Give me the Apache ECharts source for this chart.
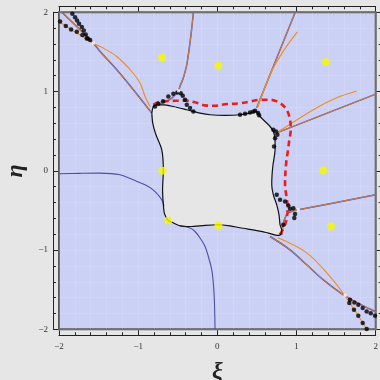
<!DOCTYPE html>
<html><head><meta charset="utf-8">
<script src="https://cdn.jsdelivr.net/npm/echarts@6/dist/echarts.min.js"></script>
<style>html,body{margin:0;padding:0;background:#e6e6e6}#c{width:380px;height:380px}</style>
</head><body><div id="c"></div>
<script>
// ---- data (xi, eta) ----
const tickValues = [-2, -1, 0, 1, 2];
const boundary = [[-0.828,0.728],[-0.808,0.811],[-0.765,0.833],[-0.682,0.833],[-0.556,0.811],[-0.386,0.770],[-0.218,0.728],[-0.092,0.707],[0.097,0.700],[0.287,0.707],[0.413,0.728],[0.489,0.751],[0.539,0.685],[0.603,0.622],[0.666,0.559],[0.707,0.496],[0.729,0.391],[0.729,0.265],[0.703,0.076],[0.691,-0.050],[0.687,-0.177],[0.707,-0.303],[0.750,-0.429],[0.779,-0.555],[0.792,-0.681],[0.813,-0.744],[0.804,-0.799],[0.770,-0.816],[0.644,-0.786],[0.518,-0.757],[0.287,-0.719],[0.160,-0.694],[0.0,-0.681],[-0.155,-0.688],[-0.345,-0.703],[-0.471,-0.694],[-0.572,-0.650],[-0.619,-0.627],[-0.667,-0.543],[-0.682,-0.429],[-0.692,-0.240],[-0.682,0.0],[-0.702,0.265],[-0.780,0.467],[-0.816,0.602],[-0.828,0.728]];
const redCurve = [[-0.808,0.833],[-0.749,0.864],[-0.660,0.877],[-0.534,0.883],[-0.408,0.886],[-0.282,0.864],[-0.155,0.826],[-0.029,0.820],[0.097,0.839],[0.287,0.852],[0.413,0.874],[0.539,0.896],[0.666,0.896],[0.792,0.854],[0.876,0.770],[0.918,0.644],[0.927,0.517],[0.909,0.391],[0.893,0.265],[0.867,0.076],[0.855,-0.177],[0.876,-0.344],[0.889,-0.471],[0.876,-0.597],[0.855,-0.681],[0.813,-0.766],[0.779,-0.820]];
const blueLeft = [[-2.0,-0.038],[-1.735,-0.032],[-1.482,-0.029],[-1.228,-0.050],[-1.064,-0.114],[-0.913,-0.177],[-0.812,-0.240],[-0.749,-0.303],[-0.702,-0.366],[-0.673,-0.442]];
const blueBottom = [[-0.471,-0.694],[-0.345,-0.723],[-0.282,-0.766],[-0.218,-0.849],[-0.155,-0.955],[-0.114,-1.081],[-0.071,-1.249],[-0.051,-1.417],[-0.038,-1.628],[-0.029,-2.0]];
const rayTopLeft = [[-0.828,0.728],[-1.061,1.022],[-1.270,1.274],[-1.481,1.505],[-1.566,1.611],[-1.957,1.994]];
const rayUp = [[-0.812,0.808],[-0.765,0.837],[-0.682,0.858],[-0.597,0.900],[-0.534,0.959],[-0.492,1.006],[-0.471,1.069],[-0.429,1.174],[-0.386,1.341],[-0.354,1.552],[-0.323,1.804],[-0.303,1.994]];
const rayUpRight = [[0.497,0.795],[0.981,1.994]];
const rayRight = [[0.750,0.479],[2.0,0.967]];
const rayLowRight = [[0.813,-0.808],[0.846,-0.618],[0.896,-0.530],[0.960,-0.505],[1.023,-0.492],[2.0,-0.303]];
const rayBottomRight = [[0.665,-0.829],[0.918,-0.997],[1.129,-1.186],[1.338,-1.375],[1.612,-1.577],[2.0,-1.779]];
const orangeTopLeft = [[-0.850,0.811],[-0.913,0.938],[-0.976,1.107],[-1.081,1.253],[-1.270,1.442],[-1.439,1.548],[-1.566,1.611],[-2.0,1.881]];
const orangeUpRight = [[0.508,0.795],[0.666,1.215],[0.833,1.510],[1.010,1.754]];
const orangeRight = [[0.770,0.492],[1.255,0.795],[1.508,0.921],[1.760,1.006]];
const orangeBottomRight = [[0.766,-0.845],[1.129,-1.035],[1.423,-1.334],[1.612,-1.577],[1.886,-1.997]];
const blackDots = [[-1.831,1.981],[-1.797,1.939],[-1.772,1.897],[-1.747,1.855],[-1.712,1.813],[-1.687,1.770],[-1.662,1.720],[-1.636,1.669],
  [-1.986,1.884],[-1.914,1.826],[-1.847,1.783],[-1.775,1.754],[-1.705,1.712],[-1.649,1.669],[-1.607,1.649],
  [-0.787,0.811],[-0.745,0.845],[-0.686,0.877],[-0.619,0.938],[-0.556,0.972],[-0.505,0.988],[-0.462,0.980],[-0.437,0.946],[-0.408,0.896],[-0.386,0.833],[-0.345,0.791],[-0.303,0.748],
  [0.287,0.707],[0.350,0.719],[0.413,0.736],[0.451,0.744],[0.476,0.757],[0.514,0.728],[0.527,0.700],
  [0.707,0.517],[0.741,0.496],[0.758,0.454],[0.729,0.412],[0.716,0.307],
  [0.750,-0.303],[0.792,-0.366],[0.855,-0.387],[0.896,-0.438],[0.918,-0.479],[0.960,-0.471],[0.981,-0.546],[0.972,-0.597],[0.833,-0.681],
  [1.675,-1.628],[1.730,-1.662],[1.780,-1.691],[1.836,-1.732],[1.886,-1.776],[1.938,-1.796],[1.992,-1.830],
  [1.667,-1.669],[1.726,-1.754],[1.780,-1.830],[1.836,-1.922],[1.886,-1.997]];
const yellowDots = [[-0.698,1.426],[0.013,1.325],[1.372,1.372],[-0.694,0.0],[1.338,0.004],[-0.619,-0.627],[0.013,-0.694],[1.436,-0.703]];
const whitePoints = [[-1.566,1.612],[1.612,-1.571],[1.023,-0.492],[-0.490,1.009]];

const NAVY = '#4a4fa8', ORANGE = '#f7891e';
const minus = v => v < 0 ? '\u2212' + (-v) : String(v);
const serif = 'Liberation Serif';
const MESH = 'rgba(255,255,255,0.13)';
function line(data, color, width, z, extra) {
  return Object.assign({type:'line', data, smooth:0.35, symbol:'none', z,
    lineStyle:{color, width}, silent:true, animation:false}, extra||{});
}
const baseAxis = {
  type:'value', min:-2, max:2, interval:1,
  axisLine:{show:true, onZero:false, lineStyle:{color:'#222', width:1}},
  axisTick:{show:true, inside:true, length:5, lineStyle:{color:'#222'}},
  minorTick:{show:true, splitNumber:5, length:3, lineStyle:{color:'#222'}},
  splitLine:{show:false}, minorSplitLine:{show:false}
};
const option = {
  backgroundColor:'#e6e6e6',
  animation:false,
  grid:{left:59, right:4.3, top:12.3, bottom:50.7, show:true, backgroundColor:'#cbd0f5', borderColor:'#5a5a5a', borderWidth:2, outerBoundsMode:'none', containLabel:false},
  xAxis:[
    Object.assign({}, baseAxis, {position:'bottom', offset:6,
      axisLabel:{formatter:minus, fontFamily:serif, fontSize:9, color:'#333', margin:7},
      name:'ξ', nameLocation:'middle', nameGap:24,
      nameTextStyle:{fontFamily:serif, fontSize:24, fontStyle:'italic', fontWeight:'bold', color:'#222'},
      splitLine:{show:true, lineStyle:{color:MESH, width:1}},
      minorSplitLine:{show:true, lineStyle:{color:MESH, width:1}}}),
    Object.assign({}, baseAxis, {position:'top', offset:6, axisLabel:{show:false}})
  ],
  yAxis:[
    Object.assign({}, baseAxis, {position:'left', offset:6,
      axisLabel:{formatter:minus, fontFamily:serif, fontSize:9, color:'#333', margin:5},
      name:'η', nameLocation:'middle', nameGap:22,
      nameTextStyle:{fontFamily:serif, fontSize:24, fontStyle:'italic', fontWeight:'bold', color:'#222'},
      splitLine:{show:true, lineStyle:{color:MESH, width:1}},
      minorSplitLine:{show:true, lineStyle:{color:MESH, width:1}}}),
    Object.assign({}, baseAxis, {position:'right', offset:6, axisLabel:{show:false}})
  ],
  series:[
    {type:'custom', data:boundary, z:2, silent:true, clip:true,
     renderItem:function(params, api){
       if (params.dataIndex !== 0) return null;
       const pts = boundary.map(p => api.coord(p));
       return {type:'polygon', shape:{points:pts, smooth:0.25}, style:{fill:'#e6e6e6'}};
     }},
    line(blueLeft, NAVY, 1.1, 3),
    line(blueBottom, NAVY, 1.1, 3),
    line(rayTopLeft, NAVY, 1.5, 3),
    line(rayUp, NAVY, 1.5, 3),
    line(rayUpRight, NAVY, 1.5, 3, {smooth:false}),
    line(rayRight, NAVY, 1.5, 3, {smooth:false}),
    line(rayLowRight, NAVY, 1.5, 3),
    line(rayBottomRight, NAVY, 1.5, 3),
    line(rayTopLeft, ORANGE, 0.8, 4),
    line(rayUp, ORANGE, 0.8, 4),
    line(rayUpRight, ORANGE, 0.8, 4, {smooth:false}),
    line(rayRight, ORANGE, 0.8, 4, {smooth:false}),
    line(rayLowRight, ORANGE, 0.8, 4),
    line(rayBottomRight, ORANGE, 0.8, 4),
    line(orangeTopLeft, ORANGE, 1.1, 4),
    line(orangeUpRight, ORANGE, 1.1, 4),
    line(orangeRight, ORANGE, 1.1, 4),
    line(orangeBottomRight, ORANGE, 1.1, 4),
    line(redCurve, '#ee1d1d', 2.6, 5, {lineStyle:{color:'#ee1d1d', width:2.6, type:[6,4]}}),
    line(boundary, '#111', 1.2, 6, {smooth:0.25}),
    {type:'scatter', data:blackDots, symbol:'circle', symbolSize:4.5, itemStyle:{color:'#000'}, z:7, silent:true},
    {type:'scatter', data:yellowDots, symbol:'circle', symbolSize:8, itemStyle:{color:'#f7f700'}, z:8, silent:true},
    {type:'scatter', data:whitePoints, symbol:'rect', symbolSize:3, itemStyle:{color:'#fff'}, z:8, silent:true}
  ]
};
const chart = echarts.init(document.getElementById('c'), null, {renderer:'canvas'});
chart.setOption(option);
</script></body></html>
